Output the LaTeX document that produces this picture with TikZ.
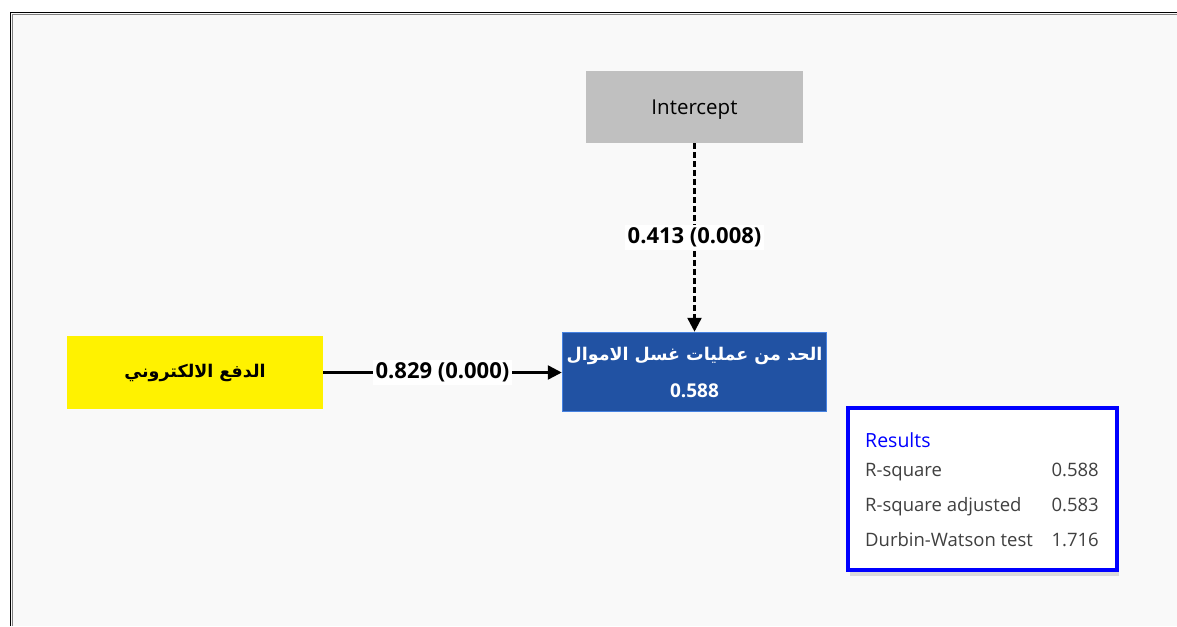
\documentclass[tikz,border=0pt]{standalone}
\usepackage{fontspec}
\setmainfont{Open Sans}
\newfontfamily\arabicfont[Script=Arabic]{DejaVu Sans}
\TeXXeTstate=1
\usetikzlibrary{arrows.meta,shadows}

\definecolor{canvasbg}{RGB}{249,249,249}
\definecolor{intgray}{RGB}{192,192,192}
\definecolor{depblue}{RGB}{33,82,163}
\definecolor{depedge}{RGB}{70,130,225}
\definecolor{restext}{RGB}{64,64,64}

\begin{document}
\begin{tikzpicture}[x=1pt,y=-1pt,
  pathlabel/.style={fill=white, inner sep=3pt, font=\bfseries\fontsize{22}{26}\selectfont},
  rowtext/.style={text=restext, inner sep=0pt, font=\fontsize{18.5}{22}\selectfont}]

\useasboundingbox (0,0) rectangle (1177,626);
\fill[canvasbg] (10,12) rectangle (1177,626);
\draw[line width=1.5pt] (10.5,626) -- (10.5,12.5) -- (1177,12.5);
\draw[gray, line width=0.8pt] (12.3,626) -- (12.3,14.3) -- (1177,14.3);

\node[fill=intgray, minimum width=217pt, minimum height=72pt, text depth=0pt, font=\fontsize{20.5}{24}\selectfont] (intercept) at (694.5,107) {Intercept};
\node[fill=yellow, minimum width=256pt, minimum height=73pt, font=\arabicfont\bfseries\fontsize{17.5}{21}\selectfont] (epay) at (195,372.5) {\beginR الدفع الالكتروني\endR};
\node[fill=depblue, draw=depedge, line width=1.5pt, minimum width=264pt, minimum height=79pt, inner xsep=0pt, text=white, align=center, font=\bfseries\fontsize{19}{37}\selectfont] (aml) at (694.5,372) {{\arabicfont\fontsize{17.5}{37}\selectfont\beginR الحد من عمليات غسل الاموال\endR}\\0.588};

\draw[line width=2.5pt, -{Triangle[length=14pt,width=14pt]}] (epay.east) -- (aml.west |- epay.east) node[midway, pathlabel] (coefpay) {0.829 (0.000)};
\draw[line width=2.5pt, dash pattern=on 6pt off 3pt, -{Triangle[length=14pt,width=14pt]}] (intercept) -- (aml) node[midway, pathlabel] (coefint) {0.413 (0.008)};

\node[draw=blue, line width=4pt, fill=white, minimum width=269pt, minimum height=162pt, drop shadow={opacity=0.25, shadow xshift=2pt, shadow yshift=-6pt}] (results) at (982.5,489) {};
\node[anchor=base west, text=blue, inner sep=0pt, font=\fontsize{19.5}{23}\selectfont] (restitle) at (865,447) {Results};
\node[anchor=base west, rowtext] (rsq) at (865,476) {R-square};
\node[anchor=base east, rowtext] (rsqval) at (1099,476) {0.588};
\node[anchor=base west, rowtext] (rsqadj) at (865,511) {R-square adjusted};
\node[anchor=base east, rowtext] (rsqadjval) at (1099,511) {0.583};
\node[anchor=base west, rowtext] (dw) at (865,546) {Durbin-Watson test};
\node[anchor=base east, rowtext] (dwval) at (1099,546) {1.716};

\end{tikzpicture}
\end{document}
